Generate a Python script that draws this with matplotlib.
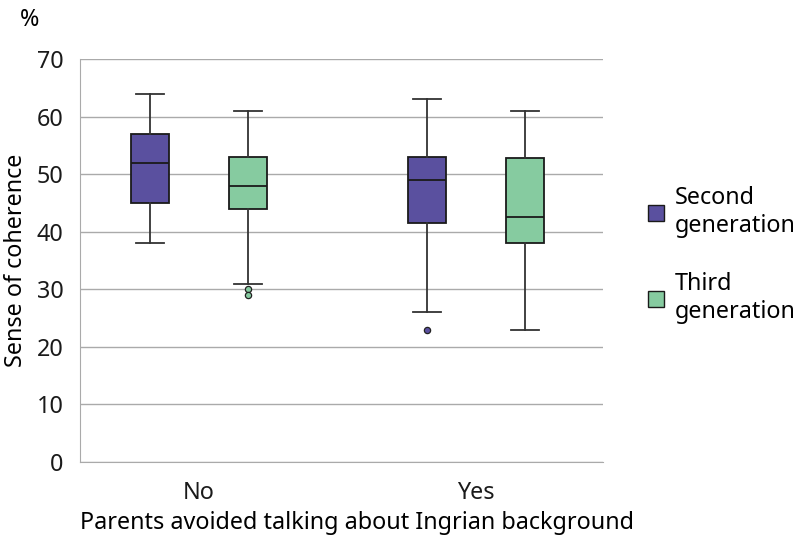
import matplotlib.pyplot as plt
from matplotlib.patches import Patch

plt.rcParams['font.family'] = ['Noto Sans', 'DejaVu Sans']

categories = ["No", "Yes"]
series = ["Second\ngeneration", "Third\ngeneration"]
colors = ["#5a509f", "#86cba0"]

# whislo, q1, median, q3, whishi, outliers  per series per category
second = [
    dict(whislo=38, q1=45, med=52, q3=57, whishi=64, fliers=[]),
    dict(whislo=26, q1=41.5, med=49, q3=53, whishi=63, fliers=[23]),
]
third = [
    dict(whislo=31, q1=44, med=48, q3=53, whishi=61, fliers=[30, 29]),
    dict(whislo=23, q1=38, med=42.5, q3=52.8, whishi=61, fliers=[]),
]

FS = 16.8

fig = plt.figure(figsize=(7.98, 5.37), dpi=100)
ax = fig.add_axes([80 / 798, (537 - 462) / 537, 523 / 798, (462 - 59) / 537])

offset = 0.177
width = 0.137
for i, (stats, col) in enumerate(zip([second, third], colors)):
    pos = [c + (i - 0.5) * 2 * offset for c in range(len(categories))]
    ax.bxp(stats, positions=pos, widths=width, capwidths=0.1, patch_artist=True,
           showfliers=True,
           boxprops=dict(facecolor=col, edgecolor="#1a1a1a", linewidth=1.3),
           medianprops=dict(color="#1a1a1a", linewidth=1.3),
           whiskerprops=dict(color="#333333", linewidth=1.3),
           capprops=dict(color="#333333", linewidth=1.3),
           flierprops=dict(marker="o", markersize=4.5, markerfacecolor=col,
                           markeredgecolor="#222222", markeredgewidth=0.9))

ax.set_xlim(-0.43, 1.458)
ax.set_ylim(0, 70)
ax.set_yticks(range(0, 71, 10))
ax.set_xticks(range(len(categories)))
ax.set_xticklabels(categories)
ax.tick_params(axis="both", length=0, labelsize=FS, colors="#1a1a1a")
ax.tick_params(axis="y", pad=12)
ax.tick_params(axis="x", pad=14)
ax.grid(axis="y", color="#aaaaaa", linewidth=1)
ax.set_axisbelow(True)
for s in ["top", "right"]:
    ax.spines[s].set_visible(False)
for s in ["left", "bottom"]:
    ax.spines[s].set_color("#aaaaaa")

ax.set_xlabel("Parents avoided talking about Ingrian background", fontsize=FS)
ax.xaxis.set_label_coords((357 - 80) / 523, (462 - 523) / 403)
ax.xaxis.label.set_va("center")
ax.set_ylabel("Sense of coherence", fontsize=FS)
ax.yaxis.set_label_coords((16 - 80) / 523, 0.5)
ax.yaxis.label.set_va("center")
fig.text(30 / 798, 1 - 20 / 537, "%", fontsize=FS, ha="center", va="center")

handles = [Patch(facecolor=c, edgecolor="#1a1a1a", linewidth=1) for c in colors]
fig.legend(handles, series, loc="center left", bbox_to_anchor=(648 / 798, 1 - 255 / 537),
           frameon=False, fontsize=FS, handlelength=0.68, handleheight=0.68,
           handletextpad=0.45, labelspacing=1.5, borderaxespad=0, borderpad=0)

fig.savefig("out.png", dpi=100)
